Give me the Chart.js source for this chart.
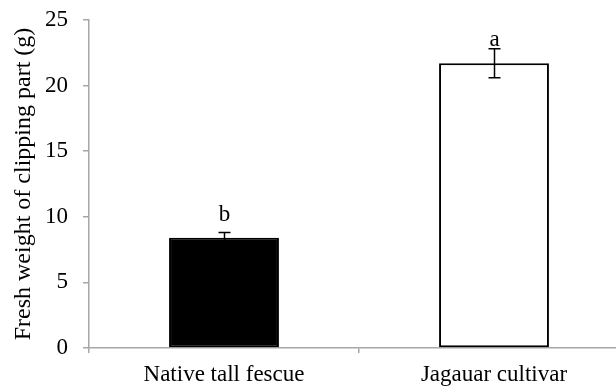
<!DOCTYPE html>
<html>
<head>
<meta charset="utf-8">
<script src="https://cdn.jsdelivr.net/npm/chart.js@4.4.0/dist/chart.umd.min.js"></script>
<style>
  html, body { margin: 0; padding: 0; background: #fff; overflow: hidden; }
  #wrap { width: 629px; height: 387px; position: relative; }
</style>
</head>
<body>
<div id="wrap"><canvas id="chart"></canvas></div>
<script>
// data
const categories = ['Native tall fescue', 'Jagauar cultivar'];
const freshWeight = [8.4, 21.7];
const stdError = [0.4, 1.1];
const sigLetters = ['b', 'a'];
const letterAt = [9.7, 23.0];   // where the letter sits (axis units)
const yTicks = [0, 5, 10, 15, 20, 25];

const serif = "'Liberation Serif', 'Times New Roman', serif";
const axisGrey = '#a6a6a6';

// error bars + letters over the bars
const errorBars = {
    id: 'errorBars',
    afterDatasetsDraw(chart) {
        const ctx = chart.ctx;
        const y = chart.scales.y;
        const meta = chart.getDatasetMeta(0);
        ctx.save();
        meta.data.forEach((bar, i) => {
            const x = Math.round(bar.x) + 0.5;
            const top = y.getPixelForValue(freshWeight[i] + stdError[i]);
            const bot = y.getPixelForValue(freshWeight[i] - stdError[i]);
            ctx.strokeStyle = '#000';
            ctx.lineWidth = 1.5;
            ctx.beginPath();
            ctx.moveTo(x, top); ctx.lineTo(x, bot);
            ctx.moveTo(x - 6, top); ctx.lineTo(x + 6, top);
            ctx.moveTo(x - 6, bot); ctx.lineTo(x + 6, bot);
            ctx.stroke();

            ctx.fillStyle = '#000';
            ctx.font = '23px ' + serif;
            ctx.textAlign = 'center';
            ctx.textBaseline = 'alphabetic';
            ctx.fillText(sigLetters[i], x, y.getPixelForValue(letterAt[i]));
        });
        ctx.restore();
    }
};

new Chart(document.getElementById('chart'), {
    type: 'bar',
    data: {
        labels: categories,
        datasets: [{
            data: freshWeight,
            backgroundColor: ['#000000', '#ffffff'],
            borderColor: '#000000',
            borderWidth: 2,
            borderSkipped: false,
            categoryPercentage: 1,
            barPercentage: 0.407
        }]
    },
    options: {
        responsive: true,
        maintainAspectRatio: false,
        animation: false,
        layout: { padding: { top: 20, right: 0, bottom: 0, left: 0 } },
        plugins: {
            legend: { display: false },
            tooltip: { enabled: false }
        },
        scales: {
            x: {
                grid: {
                    display: true,
                    offset: true,
                    drawOnChartArea: false,
                    drawTicks: true,
                    tickLength: 5,
                    color: axisGrey,
                    lineWidth: 1.5
                },
                border: { display: true, color: axisGrey, width: 1.5 },
                ticks: {
                    color: '#000',
                    font: { family: serif, size: 23 },
                    padding: 8,
                    maxRotation: 0
                },
                afterFit(scale) {
                    scale.height = 39;
                    scale.paddingLeft = 0;
                    scale.paddingRight = 0;
                }
            },
            y: {
                min: 0,
                max: 25,
                afterBuildTicks(scale) {
                    scale.ticks = yTicks.map(v => ({ value: v }));
                },
                grid: {
                    display: true,
                    drawOnChartArea: false,
                    drawTicks: true,
                    tickLength: 6,
                    color: axisGrey,
                    lineWidth: 1.5
                },
                border: { display: true, color: axisGrey, width: 1.5 },
                ticks: {
                    color: '#000',
                    font: { family: serif, size: 23 },
                    padding: 15
                },
                title: {
                    display: true,
                    text: 'Fresh weight of clipping part (g)',
                    color: '#000',
                    font: { family: serif, size: 24 },
                    padding: { top: 9, bottom: 0 }
                },
                afterFit(scale) {
                    scale.width = 89;
                    scale.paddingTop = 0;
                    scale.paddingBottom = 0;
                }
            }
        }
    },
    plugins: [errorBars]
});
</script>
</body>
</html>
